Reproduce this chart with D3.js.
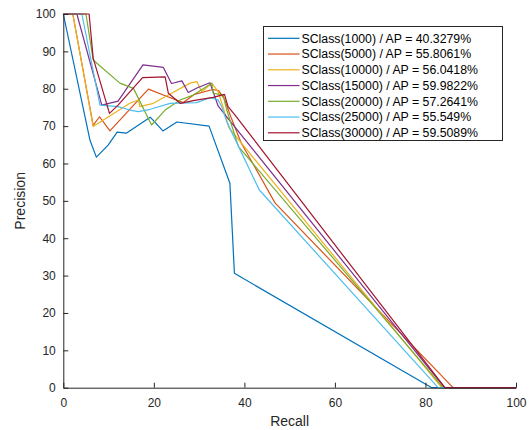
<!DOCTYPE html>
<html>
<head>
<meta charset="utf-8">
<script src="https://cdn.jsdelivr.net/npm/d3@7"></script>
<style>
  html, body { margin: 0; padding: 0; background: #fff; }
  svg { display: block; font-family: "Liberation Sans", Arial, Helvetica, sans-serif; }
</style>
</head>
<body>
<svg id="chart" width="529" height="430"></svg>
<script>
// Precision–recall curves, [recall, precision] pairs per class-count setting
const s1000  = [[0,100],[5.9,66.2],[7.3,61.7],[9.9,64.9],[11.9,68.4],[13.9,68.1],[19.2,72.4],[22.0,68.7],[25.1,71.1],[32.2,70.0],[36.8,54.7],[37.8,30.6],[81.4,0],[100,0]];
const s5000  = [[0,100],[2.1,100],[6.6,70.2],[8.0,72.5],[10.3,68.7],[18.8,79.9],[22.8,78.0],[26.5,76.3],[29.0,78.5],[33.0,79.8],[34.3,79.5],[35.6,77.2],[37.0,72.5],[39.3,65.5],[46.8,49.4],[86.1,0],[100,0]];
const s10000 = [[0,100],[2.1,100],[6.6,69.9],[14.7,76.1],[16.6,77.0],[16.9,75.2],[19.9,76.1],[23.2,78.3],[28.0,81.5],[29.5,81.9],[30.6,79.2],[32.8,81.5],[34.2,79.2],[35.5,74.3],[36.6,69.5],[83.6,0],[100,0]];
const s15000 = [[0,100],[3.0,100],[8.5,75.6],[12.1,76.7],[17.6,86.4],[22.1,85.7],[23.9,81.4],[26.2,82.1],[27.6,79.0],[29.5,80.2],[32.4,81.6],[34.2,75.4],[36.1,72.5],[84.2,0],[100,0]];
const s20000 = [[0,100],[5.0,100],[6.6,87.7],[12.5,81.5],[15.5,80.1],[19.5,70.3],[22.5,74.3],[25.8,77.0],[28.7,78.3],[32.8,81.5],[33.1,78.8],[35.3,78.3],[36.1,74.3],[38.7,64.5],[83.9,0],[100,0]];
const s25000 = [[0,100],[4.1,100],[8.1,75.6],[12.1,75.2],[14.7,74.3],[16.6,73.9],[19.2,74.5],[23.6,76.1],[29.5,76.3],[32.4,77.6],[34.2,77.0],[35.0,75.2],[36.1,71.2],[43.3,52.9],[82.8,0],[100,0]];
const s30000 = [[0,100],[5.7,100],[6.6,88.2],[10.2,73.4],[12.1,75.6],[17.5,83.0],[22.5,83.2],[23.2,78.8],[25.8,76.1],[28.7,76.8],[33.1,77.7],[35.6,78.5],[36.4,75.2],[37.9,73.0],[84.3,0],[100,0]];

const seriesList = [s1000, s5000, s10000, s15000, s20000, s25000, s30000];
const legendLabels = [
  "SClass(1000) / AP = 40.3279%",
  "SClass(5000) / AP = 55.8061%",
  "SClass(10000) / AP = 56.0418%",
  "SClass(15000) / AP = 59.9822%",
  "SClass(20000) / AP = 57.2641%",
  "SClass(25000) / AP = 55.549%",
  "SClass(30000) / AP = 59.5089%"
];
const colors = ["#0072BD", "#D95319", "#EDB120", "#7E2F8E", "#77AC30", "#4DBEEE", "#A2142F"];
const xTicks = [0, 20, 40, 60, 80, 100];
const yTicks = [0, 10, 20, 30, 40, 50, 60, 70, 80, 90, 100];

const svg = d3.select("#chart");
const axisColor = "#262626";

const x = d3.scaleLinear().domain([0, 100]).range([63.3, 516]);
const y = d3.scaleLinear().domain([0, 100]).range([387.7, 14]);

// Curves
const line = d3.line().x(d => x(d[0])).y(d => y(d[1]));
const curves = svg.append("g").attr("class", "curves");
seriesList.forEach((s, i) => {
  curves.append("path")
    .datum(s)
    .attr("d", line)
    .attr("fill", "none")
    .attr("stroke", colors[i])
    .attr("stroke-width", 1.2)
    .attr("stroke-linejoin", "round");
});

// Axes with inward ticks
const xAxis = svg.append("g")
  .attr("transform", `translate(0,${y(0)})`)
  .call(d3.axisBottom(x).tickValues(xTicks).tickSizeInner(-5).tickSizeOuter(0).tickPadding(10.5));
const yAxis = svg.append("g")
  .attr("transform", `translate(${x(0)},0)`)
  .call(d3.axisLeft(y).tickValues(yTicks).tickSizeInner(-5).tickSizeOuter(0).tickPadding(7.5));

[xAxis, yAxis].forEach(g => {
  g.select(".domain").attr("stroke", axisColor).attr("stroke-width", 1);
  g.selectAll(".tick line").attr("stroke", axisColor).attr("stroke-width", 1);
  g.selectAll(".tick text")
    .attr("fill", axisColor)
    .style("font-size", "12px")
    .style("font-family", "'Liberation Sans', Arial, sans-serif");
});

// Axis titles
svg.append("text")
  .attr("x", (x(0) + x(100)) / 2)
  .attr("y", 426)
  .attr("text-anchor", "middle")
  .attr("fill", axisColor)
  .style("font-size", "14px")
  .text("Recall");

svg.append("text")
  .attr("transform", `translate(25,${(y(0) + y(100)) / 2}) rotate(-90)`)
  .attr("text-anchor", "middle")
  .attr("fill", axisColor)
  .style("font-size", "14px")
  .text("Precision");

// Legend
const legend = svg.append("g").attr("class", "legend");
legend.append("rect")
  .attr("x", 263.5).attr("y", 26.5)
  .attr("width", 239).attr("height", 114)
  .attr("fill", "#fff")
  .attr("stroke", axisColor)
  .attr("stroke-width", 1);

legendLabels.forEach((lbl, i) => {
  const cy = 38.3 + i * 15.75;
  legend.append("line")
    .attr("x1", 268).attr("x2", 299.5)
    .attr("y1", cy).attr("y2", cy)
    .attr("stroke", colors[i])
    .attr("stroke-width", 1.2);
  legend.append("text")
    .attr("x", 301.5).attr("y", cy)
    .attr("dy", "0.36em")
    .attr("fill", "#000")
    .style("font-size", "12.3px")
    .text(lbl);
});
</script>
</body>
</html>
